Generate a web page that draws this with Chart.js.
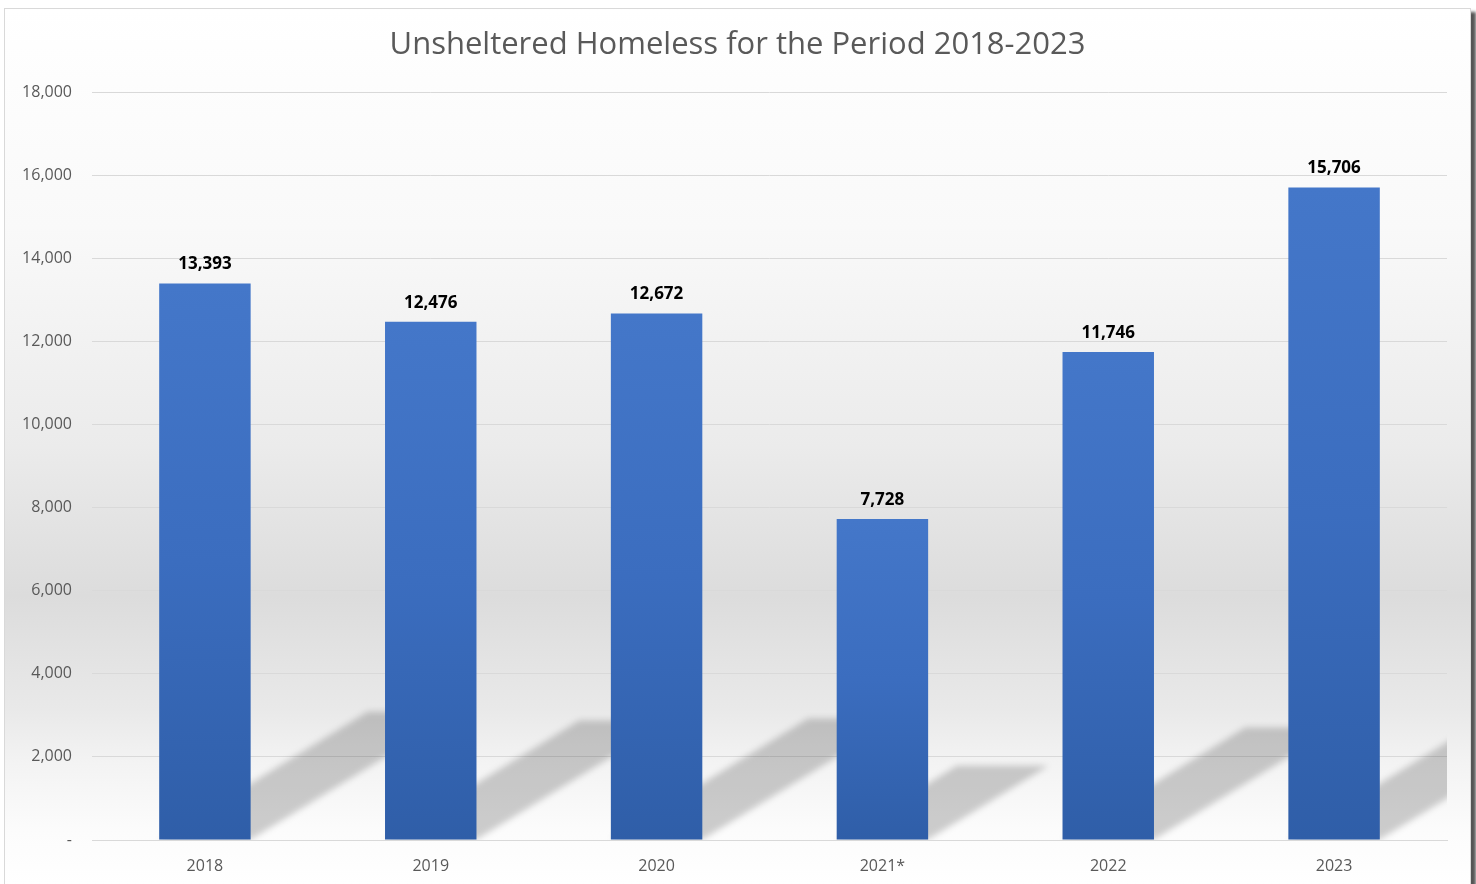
<!DOCTYPE html>
<html>
<head>
<meta charset="utf-8">
<script src="https://cdn.jsdelivr.net/npm/chart.js@4.4.1/dist/chart.umd.min.js"></script>
<style>
  html, body { margin: 0; padding: 0; background: #ffffff; overflow: hidden; }
  #box {
    position: absolute; left: 4px; top: 8px; width: 1465px; height: 890px;
    border: 1px solid #d9d9d9;
    box-shadow: 5px 4px 3px #555555;
  }
  #wrap { position: absolute; left: 0; top: 0; width: 1465px; height: 876px; }
</style>
</head>
<body>
<div id="box"><div id="wrap"><canvas id="homeless-chart"></canvas></div></div>
<script>
const years = ['2018', '2019', '2020', '2021*', '2022', '2023'];
const unsheltered = [13393, 12476, 12672, 7728, 11746, 15706];
const yTickValues = [0, 2000, 4000, 6000, 8000, 10000, 12000, 14000, 16000, 18000];
const yTickLabels = ['-', '2,000', '4,000', '6,000', '8,000', '10,000', '12,000', '14,000', '16,000', '18,000'];

const FONT = "'Open Sans', 'DejaVu Sans', sans-serif";

// background of the whole chart box (grey band in the middle)
const bgPlugin = {
  id: 'bg',
  beforeDraw(chart) {
    const { ctx, width, height } = chart;
    const g = ctx.createLinearGradient(0, 0, 0, height);
    g.addColorStop(0, '#ffffff');
    g.addColorStop(0.25, '#f9f9f9');
    g.addColorStop(0.5, '#ebebeb');
    g.addColorStop(0.67, '#dcdcdc');
    g.addColorStop(0.8, '#e9e9e9');
    g.addColorStop(0.86, '#f3f3f3');
    g.addColorStop(0.94, '#fcfcfc');
    g.addColorStop(1, '#ffffff');
    ctx.save();
    ctx.fillStyle = g;
    ctx.fillRect(0, 0, width, height);
    ctx.restore();
  }
};

// slanted shadows cast behind the bars
const shadowPlugin = {
  id: 'barShadows',
  beforeDatasetsDraw(chart) {
    const { ctx, chartArea } = chart;
    const meta = chart.getDatasetMeta(0);
    ctx.save();
    ctx.beginPath();
    ctx.rect(chartArea.left, chartArea.top, chartArea.right - chartArea.left, chartArea.bottom - chartArea.top);
    ctx.clip();
    ctx.filter = 'blur(3px)';
    ctx.fillStyle = 'rgba(0,0,0,0.19)';
    meta.data.forEach(bar => {
      const x0 = bar.x - bar.width / 2;
      const x1 = bar.x + bar.width / 2;
      const base = bar.base;
      const h = (base - bar.y) * 0.23;
      const dx = h * 1.63;
      ctx.beginPath();
      ctx.moveTo(x0, base);
      ctx.lineTo(x1, base);
      ctx.lineTo(x1 + dx, base - h);
      ctx.lineTo(x0 + dx, base - h);
      ctx.closePath();
      ctx.fill();
    });
    ctx.restore();
  }
};

// value labels above the bars
const labelPlugin = {
  id: 'valueLabels',
  afterDatasetsDraw(chart) {
    const { ctx } = chart;
    const meta = chart.getDatasetMeta(0);
    ctx.save();
    ctx.font = "bold 17px " + FONT;
    ctx.fillStyle = '#000000';
    ctx.textAlign = 'center';
    ctx.textBaseline = 'middle';
    meta.data.forEach((bar, i) => {
      ctx.fillText(unsheltered[i].toLocaleString('en-US'), bar.x, bar.y - 19);
    });
    ctx.restore();
  }
};

function barFill(context) {
  const chart = context.chart;
  const { chartArea, scales } = chart;
  if (!chartArea) return '#3a6cbd';
  const top = scales.y.getPixelForValue(context.raw);
  const bottom = scales.y.getPixelForValue(0);
  const g = chart.ctx.createLinearGradient(0, top, 0, bottom);
  g.addColorStop(0, '#4477c9');
  g.addColorStop(0.5, '#3b6dbf');
  g.addColorStop(1, '#2f5ea8');
  return g;
}

const ctx = document.getElementById('homeless-chart').getContext('2d');
const chart = new Chart(ctx, {
  type: 'bar',
  data: {
    labels: years,
    datasets: [{
      label: 'Unsheltered Homeless',
      data: unsheltered,
      backgroundColor: barFill,
      borderWidth: 0,
      barPercentage: 0.405,
      categoryPercentage: 1
    }]
  },
  plugins: [bgPlugin, shadowPlugin, labelPlugin],
  options: {
    responsive: true,
    maintainAspectRatio: false,
    animation: false,
    layout: { padding: 0 },
    plugins: {
      legend: { display: false },
      tooltip: { enabled: false },
      title: {
        display: true,
        text: 'Unsheltered Homeless for the Period 2018-2023',
        color: '#595959',
        font: { family: FONT, size: 31, weight: 'normal' },
        padding: { top: 18, bottom: 28 }
      }
    },
    scales: {
      x: {
        grid: { display: false, drawTicks: false },
        border: { display: true, color: '#d9d9d9' },
        ticks: { color: '#595959', font: { family: FONT, size: 16 }, padding: 17 },
        afterFit: s => { s.height = 45; }
      },
      y: {
        min: 0,
        max: 18000,
        border: { display: false },
        grid: { color: '#d9d9d9', lineWidth: 1, drawTicks: false },
        afterBuildTicks: s => { s.ticks = yTickValues.map(v => ({ value: v })); },
        ticks: {
          color: '#595959',
          font: { family: FONT, size: 16 },
          padding: 20,
          callback: (v) => yTickLabels[yTickValues.indexOf(v)]
        },
        afterFit: s => { s.width = 87; }
      },
      // empty right-hand axis only reserves the margin right of the plot
      yRight: {
        position: 'right',
        display: true,
        min: 0,
        max: 18000,
        border: { display: false },
        grid: { display: false, drawTicks: false },
        ticks: { display: false },
        afterFit: s => { s.width = 23; }
      }
    }
  }
});
</script>
</body>
</html>
